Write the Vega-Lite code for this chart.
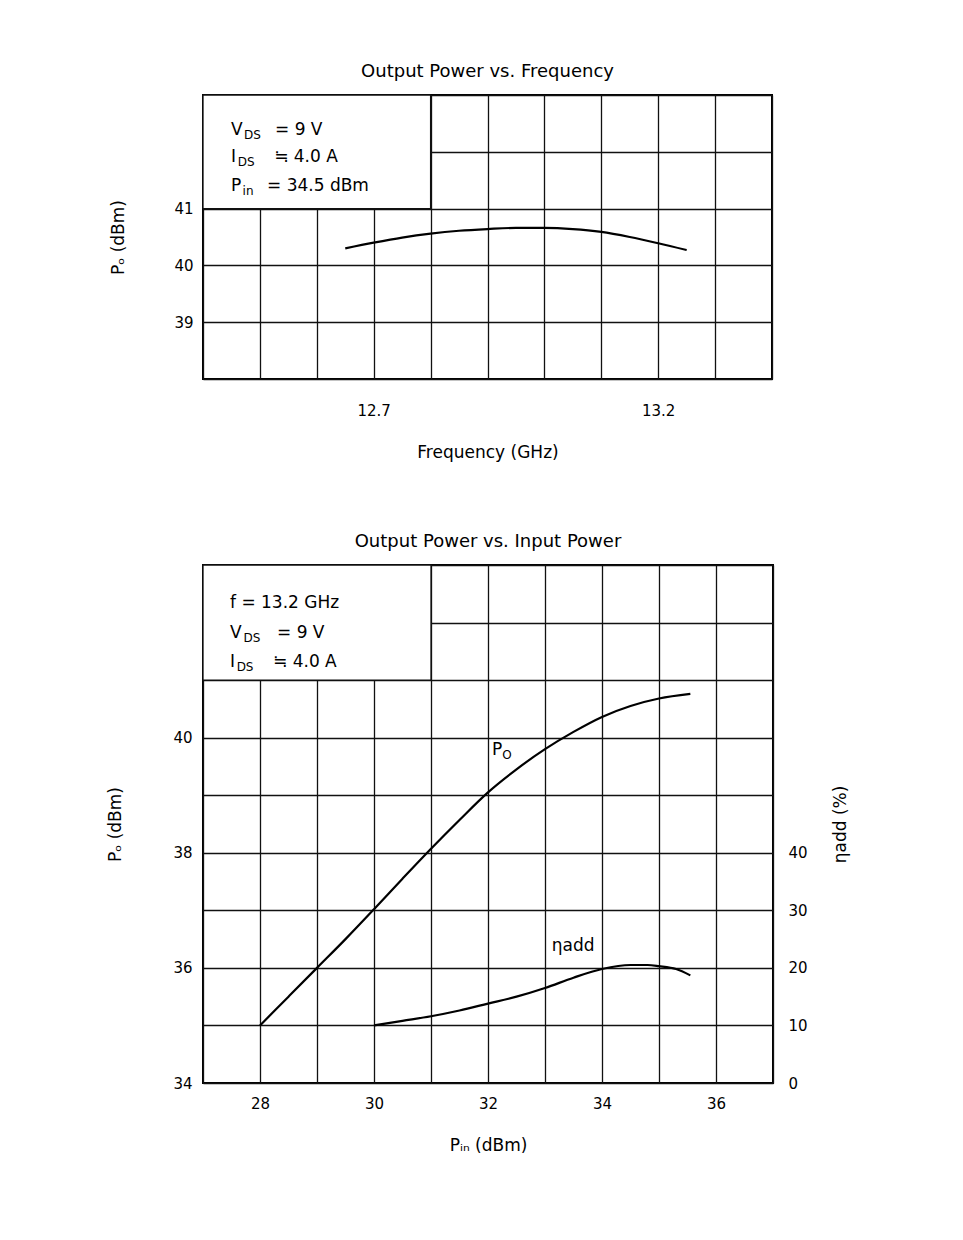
{
  "$schema": "https://vega.github.io/schema/vega-lite/v6.json",
  "padding": {"left": 105, "top": 62, "right": 10, "bottom": 10},
  "background": "white",
  "config": {
    "font": "DejaVu Sans",
    "view": {"stroke": "black", "strokeWidth": 2},
    "axis": {"grid": true, "gridColor": "#111", "gridWidth": 1.3, "gridOpacity": 1, "domain": false, "ticks": false, "labelFont": "DejaVu Sans", "labelFontSize": 15, "labelColor": "black", "titleFont": "DejaVu Sans", "titleFontSize": 17, "titleFontWeight": "normal", "titleColor": "black"},
    "title": {"font": "DejaVu Sans", "fontSize": 18, "fontWeight": "normal", "color": "black", "baseline": "bottom", "offset": 13},
    "text": {"font": "DejaVu Sans", "color": "black"}
  },
  "datasets": {
    "freq": [
      {"x": 12.65, "y": 40.3}, {"x": 12.7, "y": 40.4}, {"x": 12.75, "y": 40.49}, {"x": 12.8, "y": 40.56},
      {"x": 12.85, "y": 40.61}, {"x": 12.9, "y": 40.64}, {"x": 12.95, "y": 40.66}, {"x": 13.0, "y": 40.66},
      {"x": 13.05, "y": 40.64}, {"x": 13.1, "y": 40.59}, {"x": 13.15, "y": 40.5}, {"x": 13.2, "y": 40.39},
      {"x": 13.25, "y": 40.27}
    ],
    "po": [
      {"x": 28, "y": 35.0}, {"x": 28.5, "y": 35.5}, {"x": 29, "y": 36.0}, {"x": 29.5, "y": 36.5},
      {"x": 30, "y": 37.02}, {"x": 30.5, "y": 37.55}, {"x": 31, "y": 38.07}, {"x": 31.5, "y": 38.57},
      {"x": 32, "y": 39.05}, {"x": 32.5, "y": 39.45}, {"x": 33, "y": 39.8}, {"x": 33.5, "y": 40.1},
      {"x": 34, "y": 40.36}, {"x": 34.5, "y": 40.55}, {"x": 35, "y": 40.68}, {"x": 35.55, "y": 40.76}
    ],
    "eta": [
      {"x": 30, "eta": 10.0}, {"x": 30.5, "eta": 10.8}, {"x": 31, "eta": 11.6}, {"x": 31.5, "eta": 12.6},
      {"x": 32, "eta": 13.8}, {"x": 32.5, "eta": 15.0}, {"x": 33, "eta": 16.5}, {"x": 33.5, "eta": 18.3},
      {"x": 34, "eta": 19.8}, {"x": 34.5, "eta": 20.5}, {"x": 34.8, "eta": 20.5}, {"x": 35, "eta": 20.3},
      {"x": 35.3, "eta": 19.8}, {"x": 35.55, "eta": 18.7}
    ],
    "box1": [{"x": 12.4, "x2": 12.8, "y": 41, "y2": 43}],
    "box2": [{"x": 27, "x2": 31, "y": 41, "y2": 43}],
    "text1": [
      {"x": 12.449, "y": 42.384, "text": "V", "kind": "main"},
      {"x": 12.472, "y": 42.384, "text": "DS", "kind": "sub"},
      {"x": 12.5265, "y": 42.384, "text": "=  9 V", "kind": "main"},
      {"x": 12.449, "y": 41.908, "text": "I", "kind": "main"},
      {"x": 12.461, "y": 41.908, "text": "DS", "kind": "sub"},
      {"x": 12.525, "y": 41.908, "text": "≒  4.0 A", "kind": "main"},
      {"x": 12.449, "y": 41.398, "text": "P", "kind": "main"},
      {"x": 12.4695, "y": 41.398, "text": "in", "kind": "sub"},
      {"x": 12.5125, "y": 41.398, "text": "=  34.5 dBm", "kind": "main"}
    ],
    "text2": [
      {"x": 27.474, "y": 42.34, "text": "f  =  13.2 GHz", "kind": "main"},
      {"x": 27.474, "y": 41.819, "text": "V", "kind": "main"},
      {"x": 27.71, "y": 41.819, "text": "DS", "kind": "sub"},
      {"x": 28.298, "y": 41.819, "text": "=  9 V", "kind": "main"},
      {"x": 27.474, "y": 41.315, "text": "I", "kind": "main"},
      {"x": 27.59, "y": 41.315, "text": "DS", "kind": "sub"},
      {"x": 28.228, "y": 41.315, "text": "≒  4.0 A", "kind": "main"},
      {"x": 32.07, "y": 39.786, "text": "P", "kind": "main"},
      {"x": 32.25, "y": 39.786, "text": "O", "kind": "sub"},
      {"x": 33.12, "y": 36.38, "text": "ηadd", "kind": "main"}
    ]
  },
  "spacing": 71,
  "vconcat": [
    {
      "width": 569,
      "height": 284,
      "title": "Output Power vs. Frequency",
      "encoding": {
        "x": {"field": "x", "type": "quantitative", "scale": {"domain": [12.4, 13.4], "nice": false},
          "axis": {"values": [12.4, 12.5, 12.6, 12.7, 12.8, 12.9, 13.0, 13.1, 13.2, 13.3, 13.4], "format": ".1f",
            "labelExpr": "(abs(datum.value - 12.7) < 0.001 || abs(datum.value - 13.2) < 0.001) ? datum.label : ''",
            "title": "Frequency (GHz)", "labelPadding": 24, "titlePadding": 26}},
        "y": {"field": "y", "type": "quantitative", "scale": {"domain": [38, 43], "nice": false},
          "axis": {"values": [38, 39, 40, 41, 42, 43],
            "labelExpr": "(datum.value >= 39 && datum.value <= 41) ? datum.label : ''",
            "title": "Pₒ (dBm)", "labelPadding": 10, "titlePadding": 46}}
      },
      "layer": [
        {"data": {"name": "box1"}, "mark": {"type": "rect", "fill": "white", "stroke": "#111", "strokeWidth": 1.3},
          "encoding": {"x2": {"field": "x2"}, "y2": {"field": "y2"}}},
        {"data": {"name": "freq"}, "mark": {"type": "line", "interpolate": "monotone", "color": "black", "strokeWidth": 2.2}},
        {"data": {"name": "text1"}, "transform": [{"filter": "datum.kind == 'main'"}],
          "mark": {"type": "text", "align": "left", "baseline": "middle", "fontSize": 17},
          "encoding": {"text": {"field": "text"}}},
        {"data": {"name": "text1"}, "transform": [{"filter": "datum.kind == 'sub'"}],
          "mark": {"type": "text", "align": "left", "baseline": "middle", "fontSize": 12, "dy": 5},
          "encoding": {"text": {"field": "text"}}}
      ]
    },
    {
      "width": 570,
      "height": 518,
      "title": "Output Power vs. Input Power",
      "encoding": {
        "x": {"field": "x", "type": "quantitative", "scale": {"domain": [27, 37], "nice": false},
          "axis": {"values": [27, 28, 29, 30, 31, 32, 33, 34, 35, 36, 37],
            "labelExpr": "(datum.value % 2 == 0) ? datum.label : ''",
            "title": "Pᵢₙ (dBm)", "labelPadding": 13, "titlePadding": 26}}
      },
      "layer": [
        {
          "encoding": {
            "y": {"field": "y", "type": "quantitative", "scale": {"domain": [34, 43], "nice": false},
              "axis": {"orient": "left", "values": [34, 35, 36, 37, 38, 39, 40, 41, 42, 43],
                "labelExpr": "(datum.value % 2 == 0 && datum.value <= 40) ? datum.label : ''",
                "title": "Pₒ (dBm)", "labelPadding": 11, "titlePadding": 48}}
          },
          "layer": [
            {"data": {"name": "box2"}, "mark": {"type": "rect", "fill": "white", "stroke": "#111", "strokeWidth": 1.3},
              "encoding": {"x2": {"field": "x2"}, "y2": {"field": "y2"}}},
            {"data": {"name": "po"}, "mark": {"type": "line", "interpolate": "monotone", "color": "black", "strokeWidth": 2.2}},
            {"data": {"name": "text2"}, "transform": [{"filter": "datum.kind == 'main'"}],
              "mark": {"type": "text", "align": "left", "baseline": "middle", "fontSize": 17},
              "encoding": {"text": {"field": "text"}}},
            {"data": {"name": "text2"}, "transform": [{"filter": "datum.kind == 'sub'"}],
              "mark": {"type": "text", "align": "left", "baseline": "middle", "fontSize": 12, "dy": 5},
              "encoding": {"text": {"field": "text"}}}
          ]
        },
        {
          "data": {"name": "eta"},
          "mark": {"type": "line", "interpolate": "monotone", "color": "black", "strokeWidth": 2.2},
          "encoding": {
            "y": {"field": "eta", "type": "quantitative", "scale": {"domain": [0, 90], "nice": false},
              "axis": {"orient": "right", "values": [0, 10, 20, 30, 40], "grid": false,
                "title": "ηadd (%)", "titleAngle": 270, "labelPadding": 15, "titlePadding": 42}}
          }
        }
      ],
      "resolve": {"scale": {"y": "independent"}}
    }
  ]
}
